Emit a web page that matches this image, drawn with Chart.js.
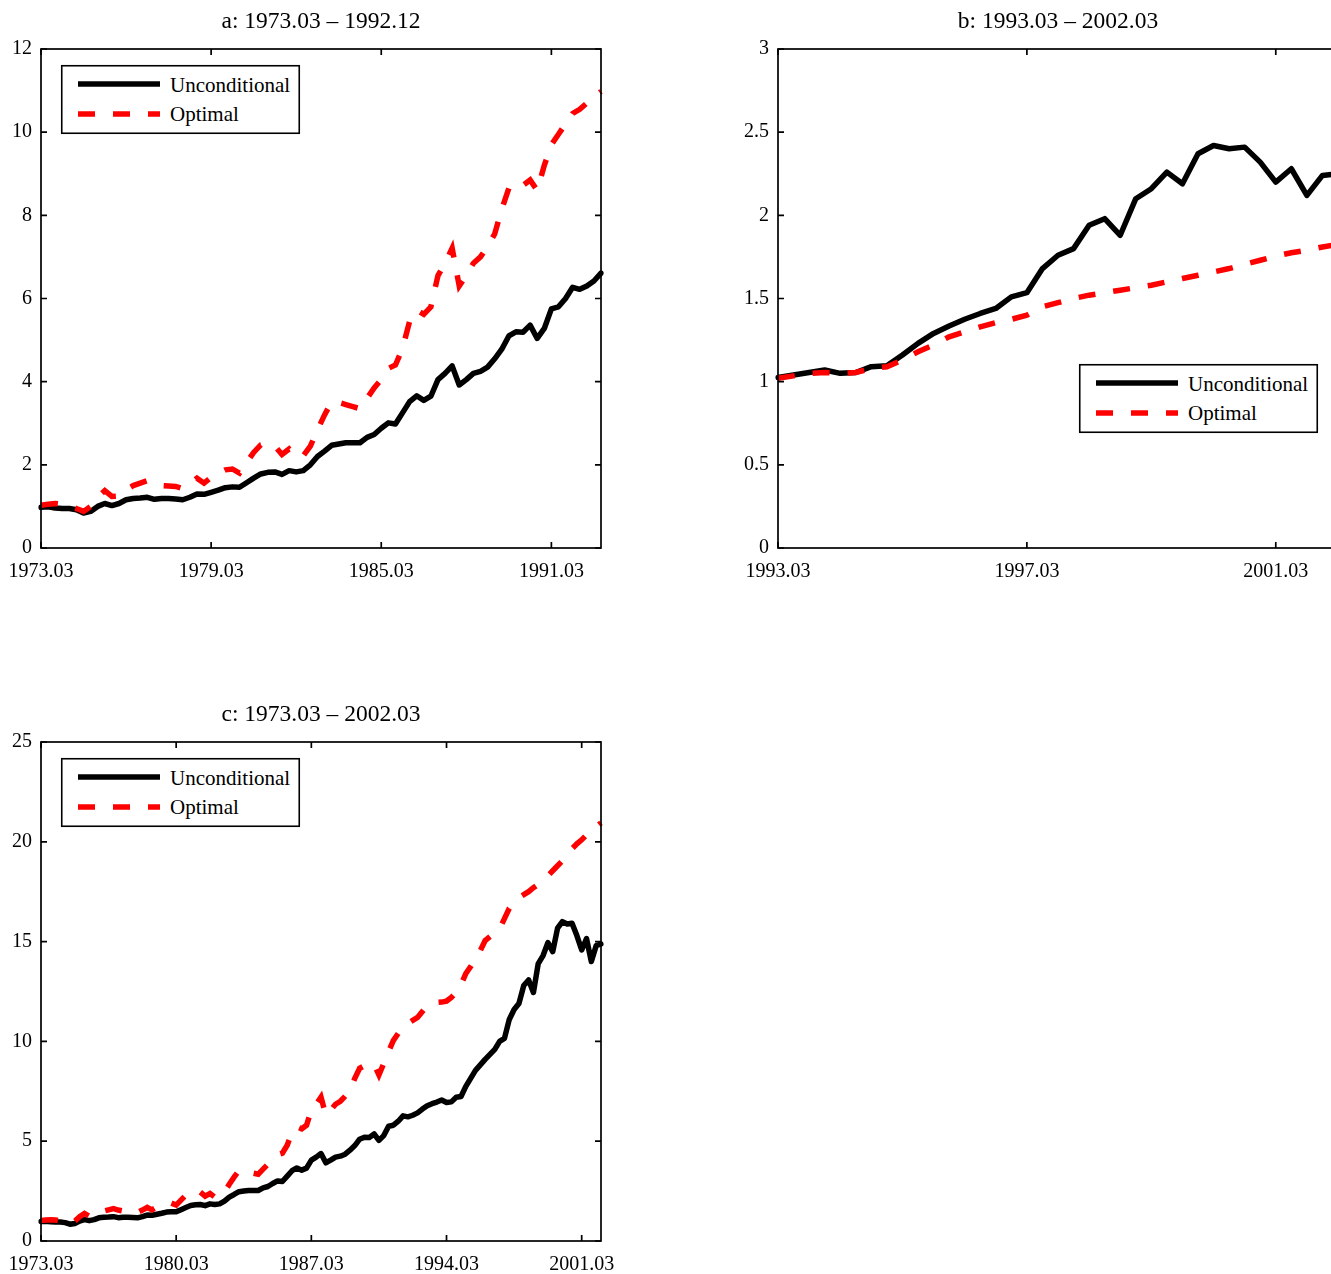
<!DOCTYPE html>
<html>
<head>
<meta charset="utf-8">
<script src="https://cdn.jsdelivr.net/npm/chart.js@4.4.0/dist/chart.umd.min.js"></script>
<style>
html,body{margin:0;padding:0;background:#fff;overflow:hidden;}
#wrap{position:relative;width:1331px;height:1274px;overflow:hidden;background:#fff;}
canvas{position:absolute;}
.legend{position:absolute;width:239px;height:69px;}
.legend svg{position:absolute;left:0;top:0;overflow:visible;}
.legend text{font-family:'Liberation Serif','Times New Roman',serif;font-size:21px;fill:#000;}
</style>
</head>
<body>
<div id="wrap">
  <canvas id="ca" width="642" height="600" style="left:0px;top:0px;width:642px;height:600px;"></canvas>
  <canvas id="cb" width="642" height="600" style="left:737px;top:0px;width:642px;height:600px;"></canvas>
  <canvas id="cc" width="642" height="600" style="left:0px;top:693px;width:642px;height:600px;"></canvas>
  <div class="legend" id="la" style="left:61px;top:65px;"></div>
  <div class="legend" id="lb" style="left:1079px;top:364px;"></div>
  <div class="legend" id="lc" style="left:61px;top:758px;"></div>
</div>
<script>
// ---------- data ----------
const seriesNames = ["Unconditional", "Optimal"];

const titleA = "a: 1973.03 \u2013 1992.12";
const titleB = "b: 1993.03 \u2013 2002.03";
const titleC = "c: 1973.03 \u2013 2002.03";

const startA = [1973, 3], countA = 80;
const startB = [1993, 3], countB = 37;
const startC = [1973, 3], countC = 117;

const tickLabelsA = ["1973.03", "1979.03", "1985.03", "1991.03"];
const tickLabelsB = ["1993.03", "1997.03", "2001.03"];
const tickLabelsC = ["1973.03", "1980.03", "1987.03", "1994.03", "2001.03"];

const yRangeA = [0, 12, 2];
const yRangeB = [0, 3, 0.5];
const yRangeC = [0, 25, 5];

const uncondA = [0.98,0.99,0.96,0.95,0.95,0.92,0.84,0.88,1.00,1.07,
  1.02,1.07,1.16,1.19,1.20,1.22,1.17,1.19,1.19,1.18,
  1.16,1.22,1.30,1.29,1.34,1.39,1.45,1.47,1.46,1.57,
  1.68,1.78,1.82,1.83,1.77,1.86,1.83,1.86,2.00,2.20,
  2.33,2.47,2.50,2.53,2.53,2.53,2.66,2.73,2.88,3.01,
  2.98,3.25,3.52,3.66,3.55,3.65,4.05,4.20,4.38,3.92,
  4.05,4.20,4.25,4.35,4.55,4.78,5.10,5.20,5.19,5.36,
  5.04,5.28,5.75,5.80,6.00,6.27,6.22,6.30,6.42,6.61];

const optimalA = [1.03,1.05,1.07,1.05,1.00,0.95,0.88,1.00,1.22,1.38,
  1.24,1.25,1.40,1.50,1.56,1.62,1.55,1.50,1.49,1.48,
  1.43,1.55,1.68,1.56,1.70,1.80,1.88,1.90,1.80,2.05,
  2.30,2.48,2.52,2.45,2.25,2.38,2.20,2.22,2.45,2.84,
  3.20,3.52,3.50,3.45,3.40,3.35,3.60,3.85,4.05,4.32,
  4.40,4.80,5.45,5.72,5.62,5.80,6.55,6.85,7.21,6.30,
  6.55,6.85,7.00,7.25,7.55,8.15,8.65,8.78,8.72,8.85,
  8.60,9.20,9.70,9.95,10.20,10.45,10.55,10.70,10.85,10.98];

const uncondB = [1.025,1.04,1.055,1.07,1.05,1.055,1.09,1.095,1.16,1.23,
  1.29,1.335,1.375,1.41,1.44,1.51,1.535,1.68,1.76,1.80,
  1.94,1.98,1.88,2.10,2.16,2.26,2.19,2.37,2.42,2.40,
  2.41,2.32,2.20,2.28,2.12,2.24,2.25];

const optimalB = [1.02,1.035,1.05,1.055,1.05,1.055,1.08,1.09,1.13,1.18,
  1.22,1.27,1.30,1.33,1.355,1.375,1.40,1.45,1.475,1.50,
  1.52,1.535,1.55,1.565,1.58,1.60,1.62,1.64,1.66,1.68,
  1.705,1.73,1.755,1.775,1.79,1.81,1.825];

const uncondC = [0.98,0.99,0.96,0.95,0.95,0.92,0.84,0.88,1.00,1.07,
  1.02,1.07,1.16,1.19,1.20,1.22,1.17,1.19,1.19,1.18,
  1.16,1.22,1.30,1.29,1.34,1.39,1.45,1.47,1.46,1.57,
  1.68,1.78,1.82,1.83,1.77,1.86,1.83,1.86,2.00,2.20,
  2.33,2.47,2.50,2.53,2.53,2.53,2.66,2.73,2.88,3.01,
  2.98,3.25,3.52,3.66,3.55,3.65,4.05,4.20,4.38,3.92,
  4.05,4.20,4.25,4.35,4.55,4.78,5.10,5.20,5.19,5.36,
  5.04,5.28,5.75,5.80,6.00,6.27,6.22,6.30,6.42,6.61,
  6.78,6.88,6.96,7.06,6.94,6.97,7.20,7.24,7.75,8.15,
  8.55,8.82,9.10,9.35,9.60,10.00,10.15,11.10,11.60,11.90,
  12.80,13.08,12.45,13.90,14.30,14.95,14.50,15.67,16.00,15.88,
  15.92,15.30,14.58,15.15,14.00,14.80,14.88];

const optimalC = [1.03,1.05,1.07,1.05,1.00,0.95,0.88,1.00,1.22,1.38,
  1.24,1.25,1.40,1.50,1.56,1.62,1.55,1.50,1.49,1.48,
  1.43,1.55,1.68,1.56,1.70,1.80,1.88,1.90,1.80,2.05,
  2.30,2.48,2.52,2.45,2.25,2.38,2.20,2.22,2.45,2.84,
  3.20,3.52,3.50,3.45,3.40,3.35,3.60,3.85,4.05,4.32,
  4.40,4.80,5.45,5.72,5.62,5.80,6.55,6.85,7.21,6.30,
  6.55,6.85,7.00,7.25,7.55,8.15,8.65,8.78,8.72,8.85,
  8.32,8.90,9.50,10.05,10.40,10.75,10.90,11.05,11.20,11.50,
  11.80,11.92,11.95,11.97,12.02,12.20,12.45,12.85,13.40,13.75,
  14.15,14.55,15.05,15.25,15.45,15.65,16.15,16.67,16.95,17.20,
  17.35,17.50,17.70,17.87,18.10,18.30,18.55,18.80,19.05,19.35,
  19.65,19.90,20.10,20.35,20.55,20.75,20.95];

// ---------- helpers ----------
function quarterLabels(start, n) {
  const out = [];
  let y = start[0], m = start[1];
  for (let i = 0; i < n; i++) {
    out.push(y + "." + String(m).padStart(2, "0"));
    m += 3; if (m > 12) { m -= 12; y += 1; }
  }
  return out;
}

const FONT = "'Liberation Serif', 'Times New Roman', serif";
const BLACK = "#000000";
const RED = "#ff0000";

const frameTicks = {
  id: "frameTicks",
  afterDraw(chart) {
    const ctx = chart.ctx, a = chart.chartArea;
    const xs = chart.scales.x, ys = chart.scales.y;
    ctx.save();
    ctx.strokeStyle = "#000";
    ctx.lineWidth = 1.7;
    ctx.strokeRect(a.left, a.top, a.right - a.left, a.bottom - a.top);
    const L = 6;
    ctx.beginPath();
    xs.ticks.forEach((t, i) => {
      const px = xs.getPixelForTick(i);
      ctx.moveTo(px, a.bottom); ctx.lineTo(px, a.bottom - L);
      ctx.moveTo(px, a.top); ctx.lineTo(px, a.top + L);
    });
    ys.ticks.forEach((t, i) => {
      const py = ys.getPixelForTick(i);
      ctx.moveTo(a.left, py); ctx.lineTo(a.left + L, py);
      ctx.moveTo(a.right, py); ctx.lineTo(a.right - L, py);
    });
    ctx.stroke();
    ctx.restore();
  }
};

function makeChart(id, title, start, count, tickLabels, yRange, uncond, optimal) {
  const labels = quarterLabels(start, count);
  return new Chart(document.getElementById(id), {
    type: "line",
    data: {
      labels: labels,
      datasets: [
        { label: seriesNames[1], data: optimal, borderColor: RED, backgroundColor: RED,
          borderWidth: 5.5, borderDash: [17, 18], borderCapStyle: "butt",
          pointRadius: 0, tension: 0, fill: false },
        { label: seriesNames[0], data: uncond, borderColor: BLACK, backgroundColor: BLACK,
          borderWidth: 5.5, borderJoinStyle: "round", borderCapStyle: "round",
          pointRadius: 0, tension: 0, fill: false }
      ]
    },
    options: {
      responsive: false,
      animation: false,
      devicePixelRatio: 1,
      events: [],
      layout: { padding: 0 },
      plugins: {
        legend: { display: false },
        tooltip: { enabled: false },
        title: {
          display: true, text: title, color: "#000",
          font: { family: FONT, size: 23.5, weight: "normal", lineHeight: 1.2 },
          padding: { top: 8, bottom: 12.8 }
        }
      },
      scales: {
        x: {
          type: "category",
          offset: false,
          grid: { display: false, drawTicks: false },
          border: { display: false },
          ticks: { autoSkip: false, maxRotation: 0, minRotation: 0, padding: 12,
                   color: "#000", font: { family: FONT, size: 20 } },
          afterBuildTicks(scale) {
            scale.ticks = scale.ticks.filter(t => tickLabels.includes(labels[t.value]));
          },
          afterFit(scale) { scale.height = 52; scale.paddingLeft = 0; scale.paddingRight = 41; }
        },
        y: {
          type: "linear",
          min: yRange[0], max: yRange[1],
          grid: { display: false, drawTicks: false },
          border: { display: false },
          ticks: { stepSize: yRange[2], padding: 9, color: "#000",
                   font: { family: FONT, size: 20 },
                   callback: v => String(Math.round(v * 100) / 100) },
          afterFit(scale) { scale.width = 41; scale.paddingTop = 0; scale.paddingBottom = 0; }
        }
      }
    },
    plugins: [frameTicks]
  });
}

function makeLegend(id) {
  const ns = "http://www.w3.org/2000/svg";
  const svg = document.createElementNS(ns, "svg");
  svg.setAttribute("width", "239"); svg.setAttribute("height", "69");
  const rect = document.createElementNS(ns, "rect");
  rect.setAttribute("x", "0.75"); rect.setAttribute("y", "0.75");
  rect.setAttribute("width", "237.5"); rect.setAttribute("height", "67.5");
  rect.setAttribute("fill", "#fff"); rect.setAttribute("stroke", "#000");
  rect.setAttribute("stroke-width", "1.6");
  svg.appendChild(rect);
  const rows = [
    { name: seriesNames[0], color: BLACK, dash: null, y: 19, ty: 27 },
    { name: seriesNames[1], color: RED, dash: "17 18", y: 49, ty: 56 }
  ];
  rows.forEach(r => {
    const ln = document.createElementNS(ns, "line");
    ln.setAttribute("x1", "17"); ln.setAttribute("x2", "99");
    ln.setAttribute("y1", r.y); ln.setAttribute("y2", r.y);
    ln.setAttribute("stroke", r.color); ln.setAttribute("stroke-width", "5.5");
    if (r.dash) ln.setAttribute("stroke-dasharray", r.dash);
    svg.appendChild(ln);
    const tx = document.createElementNS(ns, "text");
    tx.setAttribute("x", "109"); tx.setAttribute("y", r.ty);
    tx.textContent = r.name;
    svg.appendChild(tx);
  });
  document.getElementById(id).appendChild(svg);
}

makeChart("ca", titleA, startA, countA, tickLabelsA, yRangeA, uncondA, optimalA);
makeChart("cb", titleB, startB, countB, tickLabelsB, yRangeB, uncondB, optimalB);
makeChart("cc", titleC, startC, countC, tickLabelsC, yRangeC, uncondC, optimalC);
makeLegend("la"); makeLegend("lb"); makeLegend("lc");
</script>
</body>
</html>
